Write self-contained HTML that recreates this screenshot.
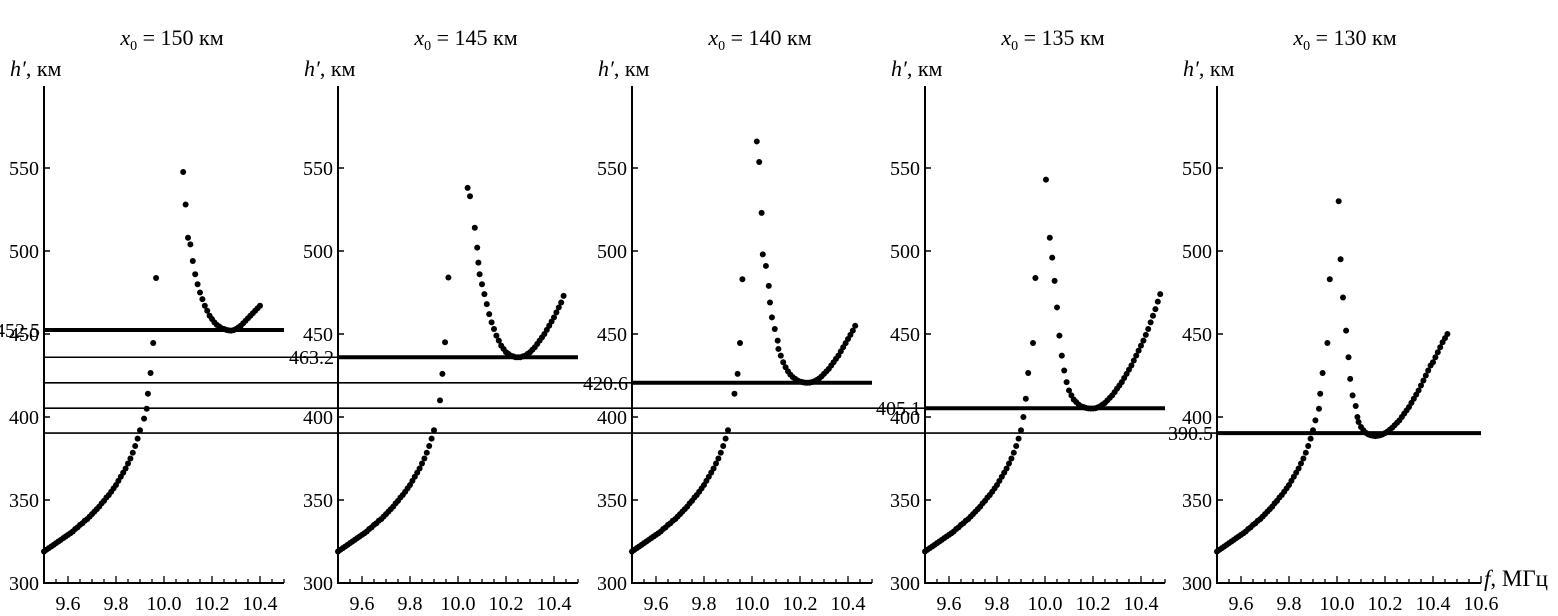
<!DOCTYPE html>
<html><head><meta charset="utf-8"><style>
html,body{margin:0;padding:0;background:#fff;}
svg{display:block;font-family:"Liberation Serif",serif;}
</style></head><body>
<svg id="chart" width="1558" height="616" viewBox="0 0 1558 616" xmlns="http://www.w3.org/2000/svg"></svg>
<script>
const panelTitles = ["150","145","140","135","130"];
const panelOrigins = [44, 338, 632, 925, 1217];
const levelValues = [452.4, 436, 420.6, 405.3, 390.3];
const levelLabels = ["452.5","463.2","420.6","405.1","390.5"];
const yTicks = [300,350,400,450,500,550];
const xTicksMain = [9.6,9.8,10.0,10.2,10.4];
const lowerF = [9.5,9.51,9.52,9.53,9.54,9.55,9.56,9.57,9.58,9.59,9.6,9.61,9.62,9.63,9.64,9.65,9.66,9.67,9.68,9.69,9.7,9.71,9.72,9.73,9.74,9.75,9.76,9.77,9.78,9.79,9.8,9.81,9.82,9.83,9.84,9.85,9.86,9.87,9.88,9.89,9.9];
const lowerH = [319,320,321,322,323,324,325,326,327,328,329,330,331,332.5,333.5,335,336,337.5,338.5,340,341.5,343,344.5,346,348,349.5,351.5,353,355,357,359,361.5,364,366.5,369,372,375,378.5,382.5,387,392];
const p1F = [9.917,9.928,9.933,9.944,9.955,9.967,10.08,10.09,10.1,10.11,10.12,10.13,10.14,10.15,10.16,10.17,10.18,10.19,10.2,10.21,10.22,10.23,10.24,10.25,10.26,10.27,10.28,10.29,10.3,10.31,10.32,10.33,10.34,10.35,10.36,10.37,10.38,10.39,10.4];
const p1H = [399,405,414,426.5,444.6,483.7,547.6,528,508,504,494,486,480,475,471,467,464,461,459,457,455.5,454.5,453.5,453,452.5,452.2,452,452.3,453,454,455,456.5,458,459.5,461,462.5,464,465.5,467];
const p2F = [9.925,9.935,9.946,9.96,10.04,10.05,10.07,10.08,10.085,10.09,10.1,10.11,10.12,10.13,10.14,10.15,10.16,10.17,10.18,10.19,10.2,10.21,10.22,10.23,10.24,10.25,10.26,10.27,10.28,10.29,10.3,10.31,10.32,10.33,10.34,10.35,10.36,10.37,10.38,10.39,10.4,10.41,10.42,10.43,10.44];
const p2H = [410,426,445,484,538,533,514,502,493,486,480,474,468,462,457,453,449,446,443,441,439,438,437,436.5,436,436,436,436.5,437,438,439,440.5,442,444,446,448,450,452.5,455,457.5,460,463,466,469,473];
const p3F = [9.927,9.94,9.95,9.96,10.02,10.03,10.04,10.045,10.058,10.07,10.075,10.083,10.095,10.107,10.11,10.12,10.13,10.14,10.15,10.16,10.17,10.18,10.19,10.2,10.21,10.22,10.23,10.24,10.25,10.26,10.27,10.28,10.29,10.3,10.31,10.32,10.33,10.34,10.35,10.36,10.37,10.38,10.39,10.4,10.41,10.42,10.43];
const p3H = [414,426,444.6,483,566,553.6,523,498,491,479,469,460,453,446,441,437,433,430,427.5,425.5,424,423,422,421.3,421,420.7,420.6,420.7,421,421.5,422.3,423.3,424.5,426,427.5,429,431,433,435,437,439.5,442,444.5,447,449.5,452,455];
const p4F = [9.91,9.92,9.93,9.95,9.96,10.004,10.02,10.03,10.04,10.05,10.06,10.07,10.08,10.09,10.1,10.11,10.12,10.13,10.14,10.15,10.16,10.17,10.18,10.19,10.2,10.21,10.22,10.23,10.24,10.25,10.26,10.27,10.28,10.29,10.3,10.31,10.32,10.33,10.34,10.35,10.36,10.37,10.38,10.39,10.4,10.41,10.42,10.43,10.44,10.45,10.46,10.47,10.48];
const p4H = [400,411,426.5,444.6,483.7,543,508,496,482,466,449,437,428,421,416,413,410.5,409,407.5,406.5,406,405.5,405.2,405.1,405.1,405.3,405.8,406.5,407.5,408.5,410,411.5,413,415,417,419,421,423.5,426,428.5,431,434,437,440,443,446,449.5,453,457,461,465,469.5,474];
const p5F = [9.91,9.925,9.93,9.94,9.96,9.97,10.007,10.015,10.025,10.038,10.048,10.055,10.065,10.078,10.085,10.09,10.1,10.11,10.12,10.13,10.14,10.15,10.16,10.17,10.18,10.19,10.2,10.21,10.22,10.23,10.24,10.25,10.26,10.27,10.28,10.29,10.3,10.31,10.32,10.33,10.34,10.35,10.36,10.37,10.38,10.39,10.4,10.41,10.42,10.43,10.44,10.45,10.46];
const p5H = [398,405,414,426.5,444.6,483,530,495,472,452,436,423,413,406.6,400,397,394,392,390.5,389.5,389,388.7,388.5,388.7,389,389.5,390.3,391.2,392.3,393.5,395,396.5,398,400,402,404,406,408.5,411,413.5,416,419,422,425,428,431,433,436,439,442,445,447.5,450];
const panelF = [p1F,p2F,p3F,p4F,p5F];
const panelH = [p1H,p2H,p3H,p4H,p5H];

const NS = "http://www.w3.org/2000/svg";
const svg = document.getElementById("chart");
const Y0 = 583, PXU = 1.66, PXF = 240;
function yS(h){ return Y0 - (h-300)*PXU; }
function xS(ox,f){ return ox + (f-9.5)*PXF; }
function mk(tag, attrs, parent){
  const e = document.createElementNS(NS, tag);
  for (const k in attrs) e.setAttribute(k, attrs[k]);
  (parent||svg).appendChild(e); return e;
}

for (let i=1;i<5;i++){
  const ln = mk("line",{x1:panelOrigins[0],x2:panelOrigins[i],y1:yS(levelValues[i]),y2:yS(levelValues[i]),stroke:"#000","stroke-width":1.6});
  
  
}

for (let p=0;p<5;p++){
  const ox = panelOrigins[p];
  const g = mk("g",{});
  
  
  const xmax = p===4 ? 10.6 : 10.5;
  const t = mk("text",{x:ox+128,y:45,"font-size":22,"text-anchor":"middle"},g);
  
  
  t.innerHTML = '<tspan font-style="italic">x</tspan><tspan font-size="14" dy="5">0</tspan><tspan dy="-5"> = '+panelTitles[p]+' км</tspan>';
  const yt = mk("text",{x:ox-34,y:76,"font-size":22},g);
  
  
  yt.innerHTML = '<tspan font-style="italic">h′</tspan>, км';
  const ya = mk("line",{x1:ox,x2:ox,y1:86,y2:Y0+1,stroke:"#000","stroke-width":2},g);
  
  
  const xa = mk("line",{x1:ox,x2:xS(ox,xmax),y1:Y0,y2:Y0,stroke:"#000","stroke-width":2},g);
  
  
  yTicks.forEach(v=>{
    const y=yS(v);
    mk("line",{x1:ox,x2:ox+6,y1:y,y2:y,stroke:"#000","stroke-width":1.5},g);
    const tl = mk("text",{x:ox-5,y:y+7,"font-size":20,"text-anchor":"end"},g);
    
    
    tl.textContent = v;
  });
  for (let f=9.55; f<=xmax+0.001; f+=0.05){
    const x=xS(ox,f);
    const major = Math.abs(Math.round(f*10)-f*10)<0.01 && Math.round(f*10)%2===0;
    mk("line",{x1:x,x2:x,y1:Y0,y2:Y0-(major?7:4),stroke:"#000","stroke-width":1.3},g);
  }
  const xt = p===4 ? xTicksMain.concat([10.6]) : xTicksMain;
  xt.forEach(f=>{
    const tl = mk("text",{x:xS(ox,f),y:610,"font-size":20,"text-anchor":"middle"},g);
    
    
    tl.textContent = f.toFixed(1);
  });
  const yl = yS(levelValues[p]);
  const lv = mk("line",{x1:ox,x2:xS(ox,xmax),y1:yl,y2:yl,stroke:"#000","stroke-width":4},g);
  
  
  const ll = mk("text",{x:ox-4,y:yl+7,"font-size":20,"text-anchor":"end"},g);
  
  
  ll.textContent = levelLabels[p];
  lowerF.forEach((f,i)=>{
    const c = mk("circle",{cx:xS(ox,f),cy:yS(lowerH[i]),r:3,fill:"#000"},g);
    
    
  });
  panelF[p].forEach((f,i)=>{
    const c = mk("circle",{cx:xS(ox,f),cy:yS(panelH[p][i]),r:3,fill:"#000"},g);
    
    
  });
}
const fx = mk("text",{x:1484,y:586,"font-size":23});


fx.innerHTML = '<tspan font-style="italic">f</tspan>, МГц';
</script>
</body></html>
